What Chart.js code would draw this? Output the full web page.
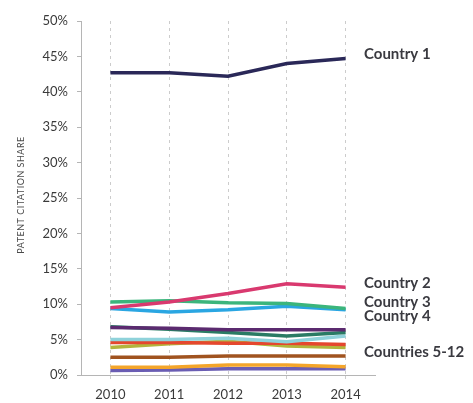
<!DOCTYPE html>
<html>
<head>
<meta charset="utf-8">
<script src="https://cdn.jsdelivr.net/npm/chart.js@4"></script>
<style>
html,body{margin:0;padding:0;background:#fff;}
#wrap{width:473px;height:403px;position:relative;}
</style>
</head>
<body>
<div id="wrap"><canvas id="c"></canvas></div>
<script>
const years = ['2010','2011','2012','2013','2014'];
const yTicks = [0,5,10,15,20,25,30,35,40,45,50];
const country1 = [42.7, 42.7, 42.2, 44.0, 44.7];
const country2 = [9.5, 10.3, 11.5, 12.9, 12.4];
const country3 = [10.3, 10.5, 10.2, 10.1, 9.4];
const country4 = [9.4, 8.9, 9.2, 9.7, 9.2];
const country5 = [6.7, 6.6, 6.4, 6.4, 6.4];
const country6 = [6.8, 6.45, 6.0, 5.5, 6.0];
const country7 = [5.0, 5.0, 5.2, 4.7, 5.5];
const country8 = [4.6, 4.6, 4.5, 4.5, 4.3];
const country9 = [3.9, 4.4, 4.75, 4.1, 3.9];
const country10 = [2.5, 2.5, 2.7, 2.7, 2.7];
const country11 = [1.1, 1.1, 1.4, 1.4, 1.15];
const country12 = [0.65, 0.7, 0.9, 0.9, 0.9];
const labelTexts = ['Country 1','Country 2','Country 3','Country 4','Countries 5-12'];
const labelValues = [45.3, 13.0, 10.35, 8.3, 3.25];
const yTitle = 'PATENT CITATION SHARE';

const series = [
  {data: country1, color:'#2a2858'},
  {data: country2, color:'#d9396f'},
  {data: country3, color:'#3bb57c'},
  {data: country4, color:'#2aa6e2'},
  {data: country5, color:'#5b2a6f'},
  {data: country6, color:'#2a7b64'},
  {data: country7, color:'#8fd2da'},
  {data: country8, color:'#e5472e'},
  {data: country9, color:'#b3b53c'},
  {data: country10, color:'#a0531f'},
  {data: country11, color:'#f4a52a'},
  {data: country12, color:'#6a5db3'}
];

const labelPlugin = {
  id:'labels',
  afterDraw(chart){
    const ctx = chart.ctx;
    const y = chart.scales.y;
    ctx.save();
    ctx.fillStyle = '#3a3a40';
    ctx.font = 'bold 15px Lato';
    ctx.textBaseline = 'middle';
    ctx.textAlign = 'left';
    labelTexts.forEach((t,i)=>{
      ctx.fillText(t, 364, y.getPixelForValue(labelValues[i]));
    });
    ctx.translate(21, 195);
    ctx.rotate(-Math.PI/2);
    ctx.font = '9px Lato';
    ctx.fillStyle = '#4a4a4a';
    ctx.textAlign = 'center';
    try { ctx.letterSpacing = '0.5px'; } catch(e) {}
    ctx.fillText(yTitle, 0, 0);
    ctx.restore();
  }
};

new Chart(document.getElementById('c'), {
  type:'line',
  data:{
    labels: years,
    datasets: series.map(s=>({data:s.data, borderColor:s.color, backgroundColor:s.color, borderWidth:3.5, pointRadius:0, tension:0, fill:false}))
  },
  options:{
    responsive:true,
    maintainAspectRatio:false,
    animation:false,
    layout:{padding:{left:0, top:21, right:98, bottom:0}},
    plugins:{legend:{display:false}, tooltip:{enabled:false}},
    scales:{
      x:{
        offset:true,
        grid:{display:true, offset:false, drawOnChartArea:true, color:'#cccccc', lineWidth:1, tickLength:6, tickColor:'#cccccc', tickBorderDash:[3,4]},
        border:{display:true, color:'#b5b5b5', width:1, dash:[3,4]},
        ticks:{color:'#3a3a3a', font:{family:'Lato', size:13}, padding:6, maxRotation:0},
        afterFit(s){ s.height = 28; }
      },
      y:{
        min:0, max:50,
        afterBuildTicks(s){ s.ticks = yTicks.map(v=>({value:v})); },
        grid:{display:true, drawOnChartArea:false, color:'#b5b5b5', tickLength:4},
        border:{display:true, color:'#b5b5b5', width:1},
        ticks:{color:'#3a3a3a', font:{family:'Lato', size:13}, padding:9, callback:v=>v+'%'},
        afterFit(s){ s.width = 81; }
      }
    }
  },
  plugins:[labelPlugin]
});
</script>
</body>
</html>
